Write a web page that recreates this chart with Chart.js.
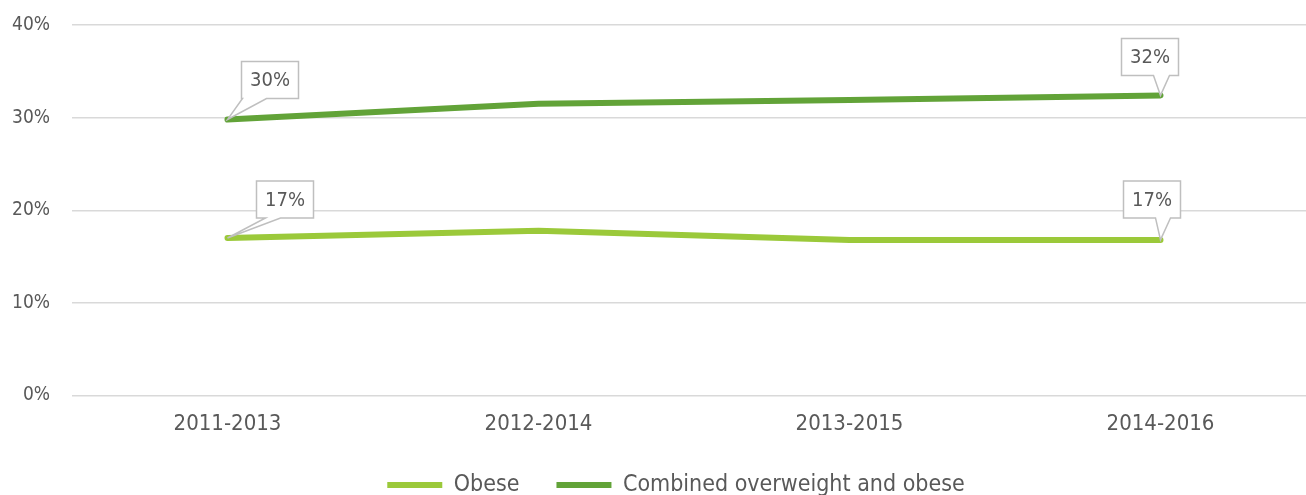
<!DOCTYPE html>
<html>
<head>
<meta charset="utf-8">
<script src="https://cdn.jsdelivr.net/npm/chart.js@4.4.1/dist/chart.umd.min.js"></script>
<style>
  body { margin: 0; overflow: hidden; background: #fff; }
  #wrap { width: 1316px; height: 495px; position: relative; }
</style>
</head>
<body>
<div id="wrap"><canvas id="chart"></canvas></div>
<script>
const periods = ['2011-2013', '2012-2014', '2013-2015', '2014-2016']
const obese = [17.0, 17.8, 16.8, 16.8]
const combined = [29.8, 31.5, 31.9, 32.4]
const yTicks = [0, 10, 20, 30, 40]

const family = '"DejaVu Sans Condensed", "DejaVu Sans", sans-serif'
const grey = '#595959'

// data callouts (Excel style boxes with a little tail)
const callouts = [
  { ds: 1, i: 0, dx: 14, dy: -21, t0: 1, t1: 25 },
  { ds: 1, i: 3, dx: -39, dy: -20, t0: 32, t1: 48 },
  { ds: 0, i: 0, dx: 29, dy: -20, t0: 9, t1: 24 },
  { ds: 0, i: 3, dx: -37, dy: -22, t0: 32, t1: 47 }
]

const calloutPlugin = {
  id: 'callouts',
  // y labels get clipped to the axis box, so let the axis reach the left edge
  afterLayout(c) {
    c.scales.y.left = 0
  },
  afterDatasetsDraw(c) {
    const ctx = c.ctx
    callouts.forEach(o => {
      const pt = c.getDatasetMeta(o.ds).data[o.i]
      const val = c.data.datasets[o.ds].data[o.i]
      const w = 57, h = 37
      const left = pt.x + o.dx, bottom = pt.y + o.dy, top = bottom - h
      ctx.save()
      ctx.beginPath()
      ctx.moveTo(left, top)
      ctx.lineTo(left + w, top)
      ctx.lineTo(left + w, bottom)
      ctx.lineTo(left + o.t1, bottom)
      ctx.lineTo(pt.x, pt.y)
      ctx.lineTo(left + o.t0, bottom)
      ctx.lineTo(left, bottom)
      ctx.closePath()
      ctx.fillStyle = '#fff'
      ctx.fill()
      ctx.strokeStyle = '#bfbfbf'
      ctx.lineWidth = 1.5
      ctx.stroke()
      ctx.fillStyle = grey
      ctx.font = '20px ' + family
      ctx.textAlign = 'center'
      ctx.textBaseline = 'middle'
      ctx.fillText(Math.round(val) + '%', left + w / 2, top + h / 2 + 1)
      ctx.restore()
    })
  }
}

new Chart(document.querySelector('#chart'), {
  type: 'line',
  data: {
    labels: periods,
    datasets: [
      {
        label: 'Obese',
        data: obese,
        borderColor: '#9BC93A',
        backgroundColor: '#9BC93A',
        borderWidth: 6,
        borderCapStyle: 'round',
        borderJoinStyle: 'round',
        pointRadius: 0,
        tension: 0
      },
      {
        label: 'Combined overweight and obese',
        data: combined,
        borderColor: '#62A338',
        backgroundColor: '#62A338',
        borderWidth: 6,
        borderCapStyle: 'round',
        borderJoinStyle: 'round',
        pointRadius: 0,
        tension: 0
      }
    ]
  },
  options: {
    responsive: true,
    maintainAspectRatio: false,
    animation: false,
    layout: { padding: { left: 36, top: 25, right: 0, bottom: 0 } },
    plugins: {
      legend: {
        position: 'bottom',
        maxHeight: 58.5,
        labels: {
          usePointStyle: true,
          pointStyle: 'line',
          pointStyleWidth: 55,
          padding: 37,
          color: grey,
          font: { size: 23, family: family }
        }
      },
      tooltip: { enabled: false }
    },
    scales: {
      x: {
        offset: true,
        grid: { display: false, drawTicks: false },
        border: { display: false },
        ticks: { color: grey, font: { size: 22, family: family }, padding: 16 },
        afterFit: s => { s.height = 41 }
      },
      y: {
        min: 0,
        max: 40,
        grid: { color: '#d9d9d9', lineWidth: 1.5, drawTicks: false },
        border: { display: false },
        ticks: { color: grey, font: { size: 19, family: family }, padding: 22, callback: v => v + '%' },
        afterBuildTicks: s => { s.ticks = yTicks.map(v => ({ value: v })) },
        afterFit: s => {
          s.width = 36
          s.paddingTop = 0
          s.paddingBottom = 0
        }
      }
    }
  },
  plugins: [calloutPlugin]
})
</script>
</body>
</html>
